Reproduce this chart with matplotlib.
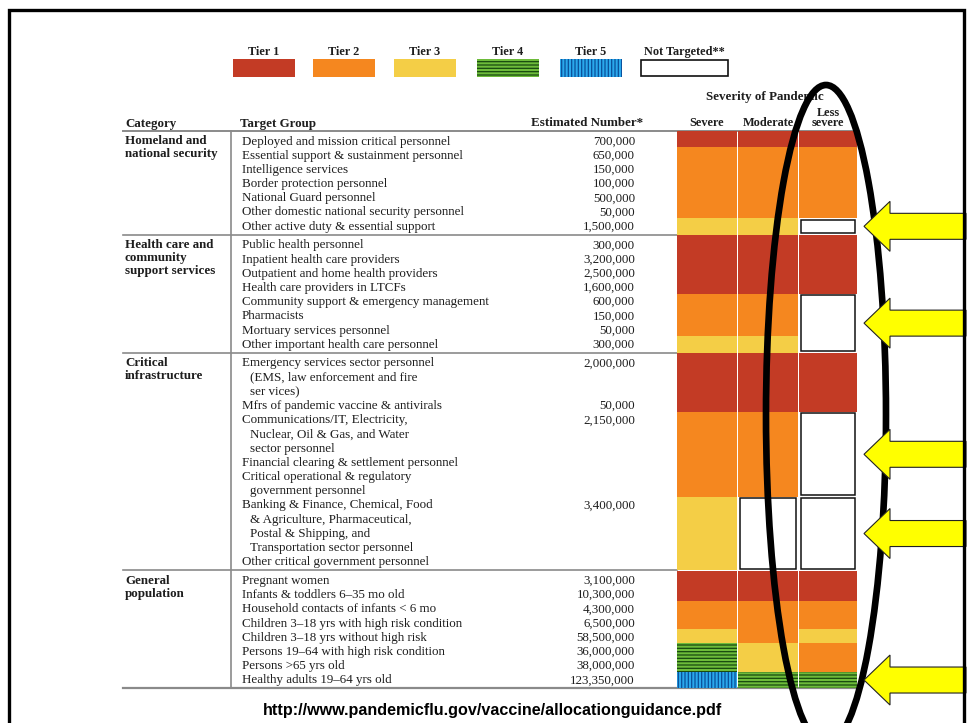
import matplotlib
matplotlib.use("Agg")
import matplotlib.pyplot as plt
from matplotlib.patches import Ellipse, Polygon, Rectangle

# ---------------- data ----------------
categories = ["Homeland and\nnational security",
              "Health care and\ncommunity\nsupport services",
              "Critical\ninfrastructure",
              "General\npopulation"]

target_groups = [
    "Deployed and mission critical personnel",
    "Essential support & sustainment personnel",
    "Intelligence services",
    "Border protection personnel",
    "National Guard personnel",
    "Other domestic national security personnel",
    "Other active duty & essential support",
    "Public health personnel",
    "Inpatient health care providers",
    "Outpatient and home health providers",
    "Health care providers in LTCFs",
    "Community support & emergency management",
    "Pharmacists",
    "Mortuary services personnel",
    "Other important health care personnel",
    "Emergency services sector personnel\n(EMS, law enforcement and fire\nser vices)",
    "Mfrs of pandemic vaccine & antivirals",
    "Communications/IT, Electricity,\nNuclear, Oil & Gas, and Water\nsector personnel",
    "Financial clearing & settlement personnel",
    "Critical operational & regulatory\ngovernment personnel",
    "Banking & Finance, Chemical, Food\n& Agriculture, Pharmaceutical,\nPostal & Shipping, and\nTransportation sector personnel",
    "Other critical government personnel",
    "Pregnant women",
    "Infants & toddlers 6\u201335 mo old",
    "Household contacts of infants < 6 mo",
    "Children 3\u201318 yrs with high risk condition",
    "Children 3\u201318 yrs without high risk",
    "Persons 19\u201364 with high risk condition",
    "Persons >65 yrs old",
    "Healthy adults 19\u201364 yrs old",
]
group_index = [0] * 7 + [1] * 8 + [2] * 7 + [3] * 8
# sub-blocks within which equal-tier cells are merged
cell_block = [0] * 7 + [1] * 8 + [2, 2, 3, 3, 3, 4, 4] + [5] * 8
estimated_number = ["700,000", "650,000", "150,000", "100,000", "500,000", "50,000", "1,500,000",
                    "300,000", "3,200,000", "2,500,000", "1,600,000", "600,000", "150,000", "50,000", "300,000",
                    "2,000,000", "50,000", "2,150,000", "", "", "3,400,000", "",
                    "3,100,000", "10,300,000", "4,300,000", "6,500,000", "58,500,000", "36,000,000",
                    "38,000,000", "123,350,000"]
# tier per severity (0 = not targeted)
tier_severe = [1, 2, 2, 2, 2, 2, 3,
               1, 1, 1, 1, 2, 2, 2, 3,
               1, 1, 2, 2, 2, 3, 3,
               1, 1, 2, 2, 3, 4, 4, 5]
tier_moderate = [1, 2, 2, 2, 2, 2, 3,
                 1, 1, 1, 1, 2, 2, 2, 3,
                 1, 1, 2, 2, 2, 0, 0,
                 1, 1, 2, 2, 2, 3, 3, 4]
tier_less = [1, 2, 2, 2, 2, 2, 0,
             1, 1, 1, 1, 0, 0, 0, 0,
             1, 1, 0, 0, 0, 0, 0,
             1, 1, 2, 2, 3, 2, 2, 4]
severity_labels = ["Severe", "Moderate", "Less\nsevere"]
legend_labels = ["Tier 1", "Tier 2", "Tier 3", "Tier 4", "Tier 5", "Not Targeted**"]
legend_tiers = [1, 2, 3, 4, 5, 0]
arrow_groups = [[6], [11, 12, 13, 14], [17, 18, 19], [20, 21], [29]]

# ---------------- styling ----------------
SERIF = ["Liberation Serif", "DejaVu Serif"]
FS = 9.4
TXT = "#1e1e1e"
DY = 1.5  # baseline nudge for serif text
tier_fill = {1: "#C33B25", 2: "#F5871F", 3: "#F4CE46", 4: "#6DBB3A", 5: "#2AA8EC"}
tier_hatch = {4: ("-----", "#17480f"), 5: ("|||||", "#0A4F9A")}
plt.rcParams["hatch.linewidth"] = 0.9

fig = plt.figure(figsize=(9.69, 7.23), dpi=100)
ax = fig.add_axes([0, 0, 1, 1])
ax.set_xlim(0, 969)
ax.set_ylim(723, 0)
ax.axis("off")

# ---------------- row layout ----------------
LH = 14.2
GAP = 4.5
y = 140.0
row_lines = []
row_top = []
row_bot = []
prev_g = None
for i, txt in enumerate(target_groups):
    g = group_index[i]
    if prev_g is not None and g != prev_g:
        y += GAP
    lines = txt.split("\n")
    centers = [y + k * LH for k in range(len(lines))]
    row_lines.append(centers)
    row_top.append(centers[0] - LH / 2)
    row_bot.append(centers[-1] + LH / 2)
    y += len(lines) * LH
    prev_g = g
n = len(target_groups)
for i in range(n):
    if i == 0 or group_index[i - 1] != group_index[i]:
        row_top[i] -= GAP / 2
    if i == n - 1 or group_index[i + 1] != group_index[i]:
        row_bot[i] += GAP / 2

X_CAT, X_TG, X_NUM = 125, 242, 635
col_left = [677, 738.5, 799.5]
col_right = [737, 798, 857]


def draw_cell(x0, x1, y0, y1, tier, z=2):
    if tier == 0:
        ax.bar((x0 + x1) / 2, (y1 - y0) - 3, bottom=y0 + 1.5, width=(x1 - x0) - 3,
               color="white", edgecolor="#111111", linewidth=1.1, zorder=z)
        return
    ax.bar((x0 + x1) / 2, y1 - y0, bottom=y0, width=x1 - x0,
           color=tier_fill[tier], linewidth=0, zorder=z)
    if tier in tier_hatch:
        h, c = tier_hatch[tier]
        ax.bar((x0 + x1) / 2, y1 - y0, bottom=y0, width=x1 - x0,
               color="none", edgecolor=c, hatch=h, linewidth=0, zorder=z + 0.1)


# ---------------- table text ----------------
for i, txt in enumerate(target_groups):
    for k, line in enumerate(txt.split("\n")):
        ax.text(X_TG + (8 if k > 0 else 0), row_lines[i][k] + DY, line, family=SERIF,
                fontsize=FS, color=TXT, va="center", ha="left")
    if estimated_number[i]:
        ax.text(X_NUM, row_lines[i][0] + DY, estimated_number[i], family=SERIF,
                fontsize=FS, color=TXT, va="center", ha="right")

group_first = [group_index.index(g) for g in range(len(categories))]
for g, cat in enumerate(categories):
    y0 = row_lines[group_first[g]][0] + DY
    for k, line in enumerate(cat.split("\n")):
        ax.text(X_CAT, y0 + k * 12.6, line, family=SERIF, fontsize=FS, fontweight="bold",
                color=TXT, va="center", ha="left")

# headers
HY = 122 + DY
ax.text(X_CAT, HY, "Category", family=SERIF, fontsize=FS, fontweight="bold", color=TXT, va="center")
ax.text(X_TG - 2, HY, "Target Group", family=SERIF, fontsize=FS, fontweight="bold", color=TXT, va="center")
ax.text(643, HY, "Estimated Number*", family=SERIF, fontsize=FS, fontweight="bold", color=TXT,
        va="center", ha="right")
for c, lab in enumerate(severity_labels):
    xc = (col_left[c] + col_right[c]) / 2
    ls = lab.split("\n")
    for k, line in enumerate(ls):
        ax.text(xc, HY - (len(ls) - 1 - k) * 11, line, family=SERIF, fontsize=8.8,
                fontweight="bold", color=TXT, va="center", ha="center")
ax.text(706, 95.5 + DY, "Severity of Pandemic", family=SERIF, fontsize=FS, fontweight="bold",
        color=TXT, va="center", ha="left")

# ---------------- rules ----------------
top_rule = row_top[0]
bot_rule = row_bot[-1]
ax.plot([123, 857], [top_rule, top_rule], color="#8a8a8a", lw=1.4, zorder=1)
ax.plot([123, 857], [bot_rule, bot_rule], color="#8a8a8a", lw=1.6, zorder=1)
for i in range(1, n):
    if group_index[i] != group_index[i - 1]:
        ys = (row_bot[i - 1] + row_top[i]) / 2
        ax.plot([123, 677], [ys, ys], color="#8a8a8a", lw=1.2, zorder=1)
ax.plot([231, 231], [top_rule, bot_rule], color="#8a8a8a", lw=1.2, zorder=1)

# ---------------- cells ----------------
for c, tiers in enumerate([tier_severe, tier_moderate, tier_less]):
    i = 0
    while i < n:
        j = i
        while j + 1 < n and tiers[j + 1] == tiers[i] and cell_block[j + 1] == cell_block[i] \
                and group_index[j + 1] == group_index[i]:
            j += 1
        y0 = row_top[i]
        y1 = row_bot[j]
        if tiers[i] != 0 and i > 0 and group_index[i - 1] != group_index[i]:
            y0 += 0.5
        draw_cell(col_left[c], col_right[c], y0, y1, tiers[i])
        i = j + 1

# ---------------- legend ----------------
leg_left = [233, 313, 394, 477, 560, 641]
leg_w = [62, 62, 62, 62, 62, 87]
for lab, t, xl, w in zip(legend_labels, legend_tiers, leg_left, leg_w):
    if t == 0:
        ax.add_patch(Rectangle((xl, 60), w, 16, facecolor="white", edgecolor="#111111", lw=1.2, zorder=2))
    else:
        draw_cell(xl, xl + w, 59, 77, t)
    ax.text(xl + w / 2, 51 + DY * 0.5, lab, family=SERIF, fontsize=8.8, fontweight="bold", color=TXT,
            va="center", ha="center")

# ---------------- annotations ----------------
ax.add_patch(Ellipse((826, 415), 120, 660, fill=False, edgecolor="black", lw=4.8, zorder=5))

for rows in arrow_groups:
    yc = (row_top[rows[0]] + row_bot[rows[-1]]) / 2
    tip = 864
    pts = [(tip, yc), (tip + 26, yc - 25), (tip + 26, yc - 13), (966, yc - 13),
           (966, yc + 13), (tip + 26, yc + 13), (tip + 26, yc + 25)]
    ax.add_patch(Polygon(pts, closed=True, facecolor="#FFFF00", edgecolor="#222222", lw=0.8, zorder=6))

# slide border
ax.plot([9, 9, 964, 964], [740, 9.5, 9.5, 740], color="black", lw=2.4, zorder=7,
        solid_joinstyle="miter")

ax.text(493, 711, "http://www.pandemicflu.gov/vaccine/allocationguidance.pdf",
        family=["Liberation Sans", "DejaVu Sans"], fontsize=11.6, fontweight="bold",
        color="black", va="center", ha="center")

fig.savefig("out.png", dpi=100)
